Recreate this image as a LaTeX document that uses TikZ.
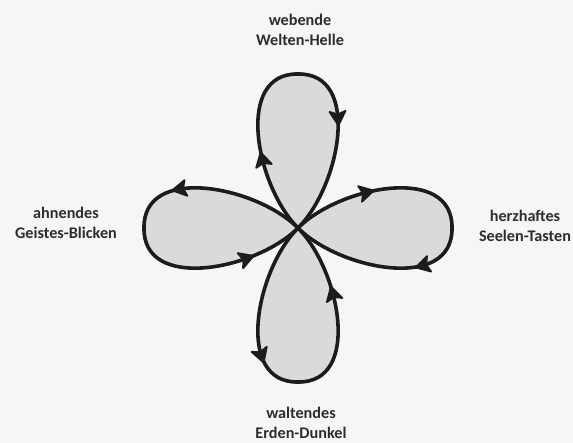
\documentclass[tikz,border=0pt]{standalone}
\usepackage{fontspec}
\setmainfont{Carlito}
\usetikzlibrary{decorations.markings}
\definecolor{papier}{RGB}{246,246,246}
\definecolor{blattgrau}{RGB}{218,218,218}
\definecolor{tinte}{RGB}{28,28,28}
\definecolor{schrift}{RGB}{45,45,45}
\tikzset{
  blatt/.style={fill=blattgrau},
  rand/.style={draw=tinte, line width=3.6pt, line join=round},
  spitze/.style={fill=tinte, draw=tinte, line width=1.8pt, line join=round},
  pfeile/.style 2 args={postaction={decorate}, decoration={markings,
      mark=at position #1 with {\path[spitze] (7pt,0) -- (-7pt,8pt) -- (-4pt,0) -- (-7pt,-8pt) -- cycle;},
      mark=at position #2 with {\path[spitze] (7pt,0) -- (-7pt,8pt) -- (-4pt,0) -- (-7pt,-8pt) -- cycle;}}},
  beschriftung/.style={align=center, text=schrift,
      font=\bfseries\fontsize{16.2}{19.5}\selectfont}
}
\begin{document}
\begin{tikzpicture}[x=1pt, y=1pt]
    % Hintergrund
    \fill[papier] (0,0) rectangle (573,-443);
    \useasboundingbox (0,0) rectangle (573,-443);
    \coordinate (O) at (298,-228);

    % Blätter füllen
    \foreach \w/\s in {0/1, -90/1, 180/-1, 90/-1}
        \fill[blatt, shift={(O)}, rotate=\w, xscale=\s]
            (0,0) .. controls (-42,42) and (-64,155) .. (0,154)
                  .. controls (64,155) and (42,42) .. (0,0);

    % Blätter mit Pfeilen
    \foreach \w/\s/\p/\q in {0/1/0.21/0.68, -90/1/0.21/0.64, 180/-1/0.37/0.80, 90/-1/0.345/0.84}
        \draw[rand, pfeile={\p}{\q}, shift={(O)}, rotate=\w, xscale=\s]
            (0,0) .. controls (-42,42) and (-64,155) .. (0,154)
                  .. controls (64,155) and (42,42) .. (0,0);

    % Beschriftungen
    \node[beschriftung] (oben) at (300,-30) {webende\\Welten-Helle};
    \node[beschriftung] (links) at (66,-223) {ahnendes\\Geistes-Blicken};
    \node[beschriftung] (rechts) at (525,-226) {herzhaftes\\Seelen-Tasten};
    \node[beschriftung] (unten) at (301,-423) {waltendes\\Erden-Dunkel};
\end{tikzpicture}
\end{document}
